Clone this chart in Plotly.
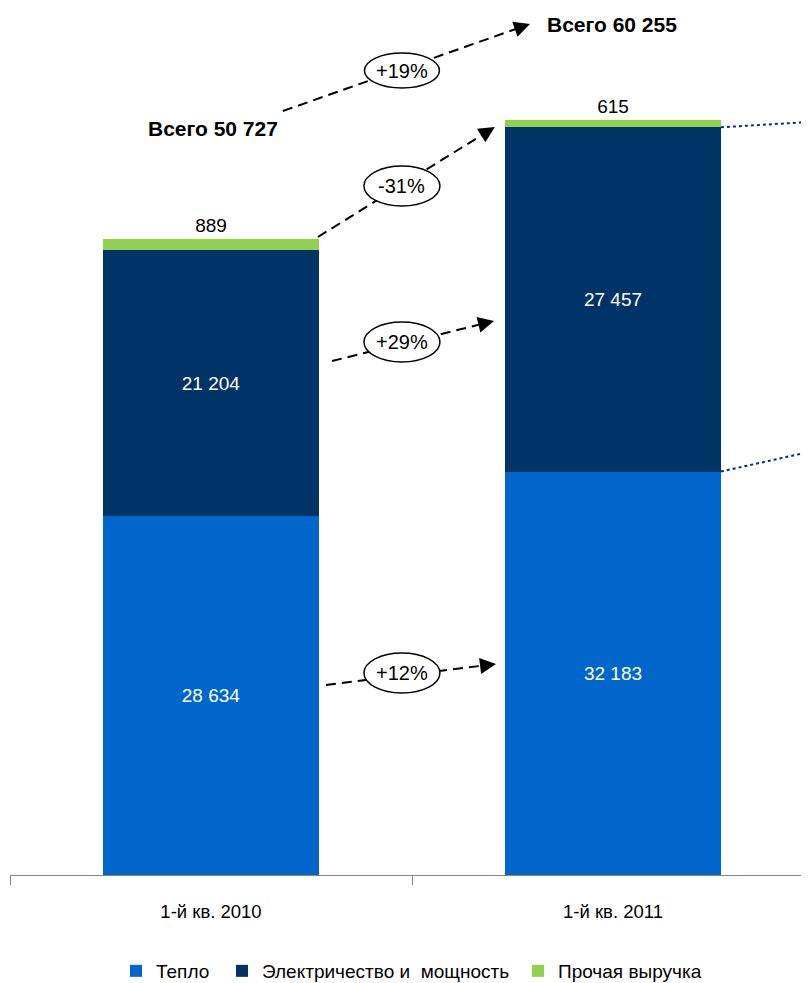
import plotly.graph_objects as go

# ---- data ----
categories = ["1-й кв. 2010", "1-й кв. 2011"]
series_names = ["Тепло", "Электричество и  мощность", "Прочая выручка"]
heat = [28634, 32183]
power = [21204, 27457]
other = [889, 615]
colors = ["#0066CC", "#003366", "#92D050"]
changes = ["+12%", "+29%", "-31%", "+19%"]

totals = [h + p + o for h, p, o in zip(heat, power, other)]


def fmt(v):
    return f"{v:,}".replace(",", " ")


FONT = "Liberation Sans, Arial, sans-serif"

W, H = 809, 983
ML, MR, MT, MB = 2, 0, 0, 116
plot_w = W - ML - MR
plot_h = H - MT - MB
cat_px = 402.0
x_range = [-0.5, -0.5 + plot_w / cat_px]
y_per_px = 1 / 0.012537
y_range = [0, plot_h * y_per_px]
bar_w = 0.537

fig = go.Figure()
fig.add_trace(go.Bar(
    x=categories, y=heat, name=series_names[0], marker_color=colors[0],
    width=bar_w, text=[fmt(v) for v in heat], textposition="inside",
    insidetextanchor="middle", textfont=dict(color="white", size=19, family=FONT),
    marker_line_width=0, legend="legend",
))
fig.add_trace(go.Bar(
    x=categories, y=power, name=series_names[1], marker_color=colors[1],
    width=bar_w, text=[fmt(v) for v in power], textposition="inside",
    insidetextanchor="middle", textfont=dict(color="white", size=19, family=FONT),
    marker_line_width=0, legend="legend2",
))
fig.add_trace(go.Bar(
    x=categories, y=other, name=series_names[2], marker_color=colors[2],
    width=bar_w, text=[fmt(v) for v in other], textposition="outside",
    textfont=dict(color="black", size=19, family=FONT), cliponaxis=False,
    marker_line_width=0, legend="legend3",
))


def dx_px(d):
    return d * cat_px


def dy_px(d):
    return d / y_per_px


shapes = []
annotations = []

# change arrows: (start, end) in data units
arrows = [
    ((0.286, 15155), (0.709, 16830)),
    ((0.301, 40998), (0.704, 44189)),
    ((0.266, 50889), (0.706, 59663)),
    ((0.179, 60940), (0.7935, 67879)),
]
ellipses = [
    (0.475, 16112, 76, 40),
    (0.475, 42514, 76, 40),
    (0.475, 54957, 76, 40),
    (0.475, 64170, 75, 35),
]

for (s, e) in arrows:
    px = dx_px(e[0] - s[0])
    py = dy_px(e[1] - s[1])
    L = (px ** 2 + py ** 2) ** 0.5
    ux, uy = px / L, py / L
    back = 10
    ex = e[0] - ux * back / cat_px
    ey = e[1] - uy * back * y_per_px
    shapes.append(dict(type="line", xref="x", yref="y", x0=s[0], y0=s[1], x1=ex, y1=ey,
                       line=dict(color="black", width=2, dash="10px,6px"), layer="above"))
    annotations.append(dict(x=e[0], y=e[1], xref="x", yref="y", text="", showarrow=True,
                            arrowhead=2, arrowsize=1.6, arrowwidth=2, arrowcolor="black",
                            ax=-ux * 15, ay=uy * 15))

for (cx, cy, w, h), txt in zip(ellipses, changes):
    shapes.append(dict(type="circle", xref="x", yref="y", xsizemode="pixel", ysizemode="pixel",
                       xanchor=cx, yanchor=cy, x0=-w / 2, x1=w / 2, y0=-h / 2, y1=h / 2,
                       fillcolor="white", line=dict(color="black", width=1.5), layer="above"))
    annotations.append(dict(x=cx, y=cy, xref="x", yref="y", text=txt, showarrow=False,
                            font=dict(size=20, color="black", family=FONT)))

# dotted connector lines to the right
edge = 1 + bar_w / 2
for y0, slope in [(heat[1] + power[1], 1926), (heat[1], 7106)]:
    shapes.append(dict(type="line", xref="x", yref="y", x0=edge, y0=y0,
                       x1=x_range[1], y1=y0 + slope * (x_range[1] - edge),
                       line=dict(color="#003366", width=2, dash="dot"), layer="above"))

# totals
annotations.append(dict(x=0.005, y=59584, xref="x", yref="y", text=f"<b>Всего {fmt(totals[0])}</b>",
                        showarrow=False, font=dict(size=21, color="black", family=FONT)))
annotations.append(dict(x=0.9975, y=67879, xref="x", yref="y", text=f"<b>Всего {fmt(totals[1])}</b>",
                        showarrow=False, font=dict(size=21, color="black", family=FONT)))

leg_y = -96 / plot_h
leg_common = dict(orientation="h", xanchor="left", y=leg_y, yanchor="middle",
                  font=dict(size=19, family=FONT, color="black"), bgcolor="rgba(0,0,0,0)")


def page_x(p):
    return (p - 10) / plot_w


fig.update_layout(
    width=W, height=H,
    margin=dict(l=ML, r=MR, t=MT, b=MB, autoexpand=False),
    barmode="stack",
    plot_bgcolor="white", paper_bgcolor="white",
    font=dict(family=FONT, size=19, color="black"),
    shapes=shapes, annotations=annotations,
    showlegend=True,
    legend=dict(x=page_x(116), **leg_common),
    legend2=dict(x=page_x(222), **leg_common),
    legend3=dict(x=page_x(518), **leg_common),
)
fig.update_xaxes(range=x_range, showline=True, linecolor="#868686", linewidth=1,
                 ticks="outside", tickson="boundaries", ticklen=9, tickcolor="#868686",
                 showgrid=False, tickfont=dict(size=18.5, family=FONT, color="black"),
                 ticklabelstandoff=20)
fig.update_yaxes(range=y_range, visible=False, showgrid=False)

fig.write_html("out.html")
